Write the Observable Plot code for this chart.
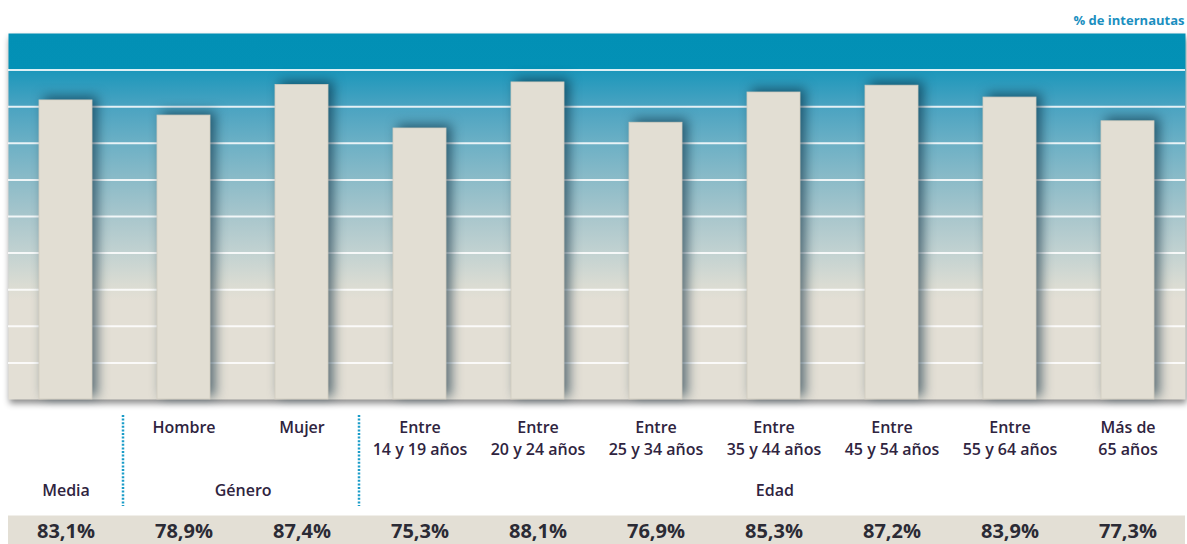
<!DOCTYPE html>
<html><head><meta charset="utf-8">
<script src="https://cdn.jsdelivr.net/npm/d3@7"></script>
<script src="https://cdn.jsdelivr.net/npm/@observablehq/plot@0.6"></script>
<style>
html,body{margin:0;padding:0;background:#fff;}
#chart svg{display:block;}
</style></head><body><div id="chart"></div>
<script>
// ---- data ----
const categories = ["Media","Hombre","Mujer","14-19","20-24","25-34","35-44","45-54","55-64","65+"];
const categoryLabels = ["","Hombre","Mujer","Entre\n14 y 19 años","Entre\n20 y 24 años","Entre\n25 y 34 años","Entre\n35 y 44 años","Entre\n45 y 54 años","Entre\n55 y 64 años","Más de\n65 años"];
const values = [83.1,78.9,87.4,75.3,88.1,76.9,85.3,87.2,83.9,77.3];
const groupNames = ["Media","Género","Edad"];
const groupMembers = [["Media"],["Hombre","Mujer"],["14-19","20-24","25-34","35-44","45-54","55-64","65+"]];
const unitLabel = "% de internautas";
const yMax = 101.7;

// ---- layout ----
const W = 1187, H = 544, mL = 8, mR = 2, mT = 33, mB = 145;
const padInner = 0.55, padOuter = 0.25;
const step = (W - mL - mR) / (categories.length - padInner + 2 * padOuter);
const gridTicks = d3.range(1, 10).map(i => i * yMax / 10);
const fmt = v => v.toFixed(1).replace(".", ",") + "%";
const data = categories.map((c, i) => ({cat: c, label: categoryLabels[i], value: values[i]}));

const labelColor = "#2f2440";
const font = "'Open Sans', 'Noto Sans', sans-serif";

const groupMarks = groupNames.map((g, i) =>
  Plot.text([g], {x: () => groupMembers[i][0], y: () => 0, text: d => d,
    dx: (groupMembers[i].length - 1) * step / 2, dy: 91,
    fontSize: 16, fontWeight: 600, fill: labelColor}));

const plot = Plot.plot({
  width: W, height: H,
  marginLeft: mL, marginRight: mR, marginTop: mT, marginBottom: mB,
  style: {fontFamily: font, background: "#fff", overflow: "visible"},
  x: {domain: categories, paddingInner: padInner, paddingOuter: padOuter, axis: null},
  y: {domain: [0, yMax], axis: null},
  marks: [
    Plot.frame({fill: "url(#panelGrad)"}),
    Plot.ruleY(gridTicks, {stroke: "#ffffff", strokeOpacity: 0.85, strokeWidth: 2}),
    Plot.barY(data, {x: "cat", y: "value", fill: "#e2ded3", stroke: "#d3cec1", strokeWidth: 0.8}),
    Plot.ruleY([0], {dy: 130.5, stroke: "#e3dfd5", strokeWidth: 29}),
    Plot.text(data, {x: "cat", y: () => 0, text: "label", lineAnchor: "top", dy: 18,
      lineHeight: 1.375, fontSize: 16, fontWeight: 600, fill: labelColor}),
    ...groupMarks,
    Plot.text(data, {x: "cat", y: () => 0, text: d => fmt(d.value), dy: 132,
      fontSize: 20, fontWeight: 700, fill: "#2b2b35"}),
    Plot.text([unitLabel], {frameAnchor: "top-right", dy: -18, dx: -1, textAnchor: "end",
      fontSize: 13, fontWeight: 700, fill: "#1b8fbf"})
  ]
});

const svg = d3.select(plot.tagName.toLowerCase() === "svg" ? plot : plot.querySelector("svg"));
const defs = svg.insert("defs", ":first-child");
const grad = defs.append("linearGradient").attr("id", "panelGrad")
  .attr("x1", 0).attr("y1", 0).attr("x2", 0).attr("y2", 1);
[[0,"#0290b5"],[0.097,"#0391b6"],[0.099,"#1b97bb"],[0.2,"#4aa3c1"],[0.3,"#6cb0c5"],
 [0.4,"#8bbbc8"],[0.5,"#a8c6cc"],[0.6,"#c2d2d1"],[0.69,"#dbdcd3"],[0.73,"#e3dfd5"],[1,"#e3dfd5"]]
 .forEach(([o, c]) => grad.append("stop").attr("offset", o).attr("stop-color", c));

svg.selectAll('[aria-label="frame"]').style("filter", "drop-shadow(1px 4px 3px rgba(0,0,0,0.45))");
svg.selectAll('[aria-label="bar"]').style("filter", "drop-shadow(5px -3px 6px rgba(0,35,55,0.6))");

// group separators
const xs = plot.scale("x"), ys = plot.scale("y");
const y0 = ys.apply(0);
const sepAfter = [["Media","Hombre"],["Mujer","14-19"]];
sepAfter.forEach(([a, b]) => {
  const xm = (xs.apply(a) + xs.bandwidth + xs.apply(b)) / 2 - 1.5;
  svg.append("line").attr("x1", xm).attr("x2", xm).attr("y1", y0 + 16).attr("y2", y0 + 107)
    .attr("stroke", "#1a9cc8").attr("stroke-width", 2.5).attr("stroke-dasharray", "2,1.6");
});

document.getElementById("chart").appendChild(plot);
</script></body></html>
